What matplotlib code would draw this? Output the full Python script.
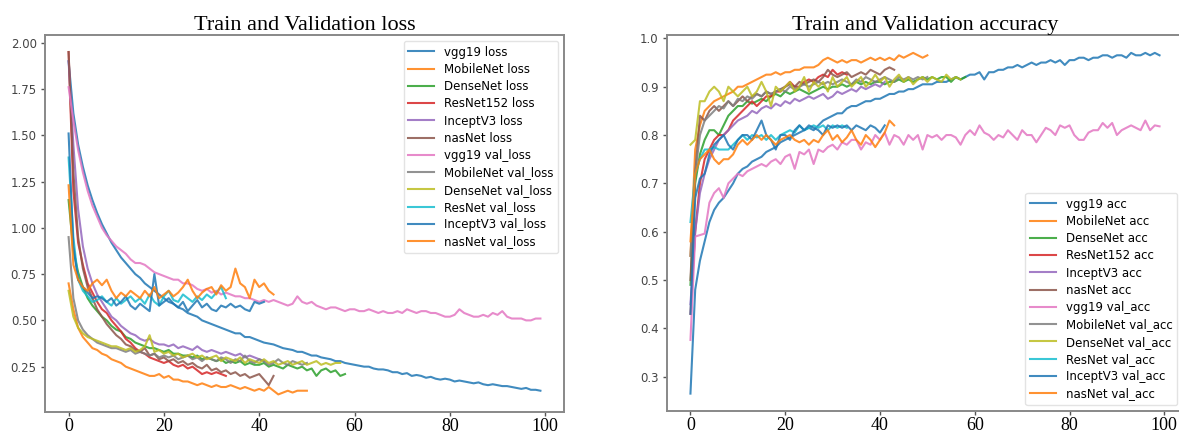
import matplotlib
matplotlib.use("Agg")
import matplotlib.pyplot as plt

loss_labels = ["vgg19 loss", "MobileNet loss", "DenseNet loss", "ResNet152 loss", "InceptV3 loss", "nasNet loss",
               "vgg19 val_loss", "MobileNet val_loss", "DenseNet val_loss", "ResNet val_loss", "InceptV3 val_loss", "nasNet val_loss"]
acc_labels = ["vgg19 acc", "MobileNet acc", "DenseNet acc", "ResNet152 acc", "InceptV3 acc", "nasNet acc",
              "vgg19 val_acc", "MobileNet val_acc", "DenseNet val_acc", "ResNet val_acc", "InceptV3 val_acc", "nasNet val_acc"]

vgg19_loss = [1.90, 1.62, 1.45, 1.33, 1.23, 1.15, 1.08, 1.02, 0.97, 0.92,
              0.88, 0.84, 0.81, 0.78, 0.75, 0.73, 0.70, 0.68, 0.66, 0.64,
              0.62, 0.60, 0.59, 0.57, 0.56, 0.54, 0.53, 0.52, 0.50, 0.49,
              0.48, 0.47, 0.46, 0.45, 0.44, 0.43, 0.43, 0.41, 0.41, 0.40,
              0.39, 0.38, 0.375, 0.37, 0.36, 0.35, 0.345, 0.34, 0.33, 0.33,
              0.32, 0.31, 0.31, 0.30, 0.295, 0.29, 0.28, 0.28, 0.27, 0.265,
              0.26, 0.255, 0.25, 0.25, 0.24, 0.235, 0.235, 0.23, 0.22, 0.22,
              0.21, 0.215, 0.20, 0.205, 0.20, 0.19, 0.195, 0.185, 0.18, 0.185,
              0.18, 0.17, 0.175, 0.17, 0.165, 0.16, 0.165, 0.155, 0.15, 0.155,
              0.15, 0.145, 0.145, 0.14, 0.135, 0.13, 0.135, 0.125, 0.125, 0.12]
mobilenet_loss = [0.70, 0.56, 0.46, 0.41, 0.38, 0.35, 0.34, 0.32, 0.31, 0.29,
                  0.28, 0.27, 0.25, 0.24, 0.23, 0.22, 0.21, 0.20, 0.20, 0.21,
                  0.19, 0.20, 0.18, 0.18, 0.17, 0.17, 0.16, 0.15, 0.16, 0.15,
                  0.14, 0.15, 0.14, 0.14, 0.15, 0.14, 0.13, 0.14, 0.13, 0.12,
                  0.13, 0.12, 0.14, 0.12, 0.10, 0.11, 0.12, 0.11, 0.12, 0.12,
                  0.12]
densenet_loss = [1.15, 0.88, 0.76, 0.68, 0.62, 0.58, 0.55, 0.52, 0.50, 0.47,
                 0.45, 0.44, 0.41, 0.40, 0.38, 0.37, 0.36, 0.35, 0.35, 0.34,
                 0.33, 0.34, 0.32, 0.32, 0.31, 0.31, 0.30, 0.31, 0.29, 0.30,
                 0.29, 0.28, 0.29, 0.27, 0.28, 0.27, 0.28, 0.26, 0.27, 0.26,
                 0.26, 0.27, 0.25, 0.26, 0.25, 0.24, 0.26, 0.25, 0.24, 0.25,
                 0.23, 0.24, 0.20, 0.23, 0.24, 0.22, 0.23, 0.20, 0.21]
resnet_loss = [1.95, 1.20, 0.92, 0.80, 0.70, 0.65, 0.60, 0.56, 0.54, 0.50,
               0.47, 0.44, 0.40, 0.38, 0.35, 0.33, 0.32, 0.30, 0.29, 0.28,
               0.27, 0.28, 0.26, 0.25, 0.26, 0.24, 0.25, 0.23, 0.21, 0.22,
               0.21, 0.22, 0.21, 0.20]
inception_loss = [1.90, 1.45, 1.10, 0.90, 0.78, 0.70, 0.64, 0.60, 0.56, 0.52,
                  0.50, 0.47, 0.45, 0.43, 0.42, 0.40, 0.39, 0.40, 0.38, 0.37,
                  0.37, 0.36, 0.37, 0.35, 0.36, 0.35, 0.34, 0.36, 0.34, 0.33,
                  0.34, 0.33, 0.32, 0.33, 0.32, 0.31, 0.32, 0.30, 0.31, 0.30,
                  0.29, 0.28]
nasnet_loss = [1.95, 1.30, 0.95, 0.78, 0.68, 0.62, 0.56, 0.52, 0.48, 0.45,
               0.42, 0.40, 0.37, 0.36, 0.34, 0.33, 0.35, 0.31, 0.32, 0.29,
               0.30, 0.28, 0.29, 0.27, 0.28, 0.26, 0.27, 0.25, 0.24, 0.26,
               0.23, 0.24, 0.22, 0.23, 0.21, 0.22, 0.20, 0.21, 0.19, 0.20,
               0.21, 0.18, 0.15, 0.20]

vgg19_val_loss = [1.76, 1.58, 1.42, 1.30, 1.20, 1.12, 1.06, 1.00, 0.96, 0.93,
                  0.90, 0.88, 0.86, 0.83, 0.81, 0.81, 0.80, 0.78, 0.76, 0.75,
                  0.74, 0.73, 0.72, 0.72, 0.70, 0.70, 0.69, 0.67, 0.66, 0.67,
                  0.65, 0.66, 0.64, 0.65, 0.64, 0.63, 0.63, 0.62, 0.62, 0.61,
                  0.60, 0.61, 0.60, 0.61, 0.60, 0.59, 0.58, 0.59, 0.63, 0.60,
                  0.59, 0.60, 0.58, 0.57, 0.56, 0.57, 0.57, 0.56, 0.55, 0.56,
                  0.56, 0.55, 0.55, 0.56, 0.55, 0.54, 0.55, 0.54, 0.54, 0.55,
                  0.54, 0.56, 0.55, 0.54, 0.55, 0.55, 0.54, 0.54, 0.53, 0.52,
                  0.52, 0.53, 0.56, 0.54, 0.53, 0.52, 0.52, 0.53, 0.52, 0.54,
                  0.53, 0.55, 0.52, 0.51, 0.51, 0.51, 0.50, 0.50, 0.51, 0.51]
mobilenet_val_loss = [0.95, 0.62, 0.50, 0.45, 0.42, 0.40, 0.38, 0.37, 0.36, 0.35,
                      0.35, 0.34, 0.33, 0.34, 0.32, 0.33, 0.32, 0.31, 0.32, 0.30,
                      0.31, 0.30, 0.31, 0.29, 0.30, 0.31, 0.29, 0.30, 0.28, 0.30,
                      0.29, 0.28, 0.30, 0.29, 0.27, 0.29, 0.28, 0.31, 0.28, 0.27,
                      0.29, 0.28, 0.26, 0.27, 0.29, 0.27, 0.26, 0.28, 0.27, 0.26,
                      0.27]
densenet_val_loss = [0.66, 0.52, 0.46, 0.43, 0.41, 0.40, 0.39, 0.38, 0.37, 0.36,
                     0.36, 0.35, 0.34, 0.35, 0.33, 0.34, 0.36, 0.42, 0.33, 0.34,
                     0.32, 0.33, 0.31, 0.32, 0.30, 0.31, 0.32, 0.30, 0.31, 0.29,
                     0.30, 0.31, 0.28, 0.30, 0.29, 0.28, 0.30, 0.27, 0.29, 0.28,
                     0.27, 0.29, 0.27, 0.28, 0.26, 0.27, 0.28, 0.26, 0.27, 0.28,
                     0.26, 0.27, 0.28, 0.26, 0.27, 0.26, 0.27, 0.27]
resnet_val_loss = [1.38, 0.95, 0.72, 0.66, 0.63, 0.60, 0.61, 0.63, 0.60, 0.58,
                   0.62, 0.59, 0.61, 0.63, 0.60, 0.62, 0.59, 0.64, 0.60, 0.58,
                   0.63, 0.66, 0.61, 0.60, 0.64, 0.62, 0.60, 0.63, 0.61, 0.64,
                   0.62, 0.65, 0.68, 0.62]
inception_val_loss = [1.51, 0.90, 0.72, 0.68, 0.65, 0.62, 0.63, 0.62, 0.60, 0.62,
                      0.58, 0.60, 0.63, 0.58, 0.56, 0.59, 0.57, 0.55, 0.75, 0.58,
                      0.60, 0.62, 0.59, 0.57, 0.60, 0.55, 0.58, 0.61, 0.57, 0.59,
                      0.56, 0.55, 0.58, 0.57, 0.59, 0.57, 0.58, 0.56, 0.55, 0.60,
                      0.59, 0.60]
nasnet_val_loss = [1.23, 0.80, 0.72, 0.68, 0.66, 0.70, 0.72, 0.69, 0.72, 0.66,
                   0.62, 0.65, 0.63, 0.66, 0.64, 0.62, 0.66, 0.63, 0.68, 0.62,
                   0.64, 0.66, 0.63, 0.65, 0.68, 0.72, 0.66, 0.62, 0.65, 0.67,
                   0.68, 0.64, 0.69, 0.66, 0.68, 0.78, 0.70, 0.68, 0.62, 0.72,
                   0.68, 0.70, 0.66, 0.64]

vgg19_acc = [0.265, 0.48, 0.54, 0.58, 0.62, 0.645, 0.66, 0.67, 0.685, 0.70,
             0.72, 0.73, 0.735, 0.745, 0.75, 0.755, 0.765, 0.77, 0.775, 0.785,
             0.79, 0.795, 0.80, 0.805, 0.81, 0.815, 0.81, 0.82, 0.83, 0.835,
             0.84, 0.845, 0.845, 0.855, 0.86, 0.86, 0.865, 0.87, 0.87, 0.875,
             0.875, 0.88, 0.885, 0.885, 0.89, 0.89, 0.895, 0.895, 0.90, 0.905,
             0.905, 0.905, 0.91, 0.91, 0.91, 0.915, 0.92, 0.915, 0.92, 0.925,
             0.925, 0.93, 0.915, 0.93, 0.93, 0.935, 0.935, 0.94, 0.94, 0.945,
             0.94, 0.945, 0.95, 0.945, 0.95, 0.95, 0.955, 0.95, 0.955, 0.945,
             0.955, 0.955, 0.96, 0.96, 0.955, 0.96, 0.96, 0.965, 0.965, 0.96,
             0.965, 0.965, 0.96, 0.97, 0.965, 0.965, 0.97, 0.965, 0.97, 0.965]
mobilenet_acc = [0.55, 0.77, 0.82, 0.85, 0.86, 0.87, 0.875, 0.88, 0.885, 0.89,
                 0.90, 0.90, 0.905, 0.91, 0.915, 0.92, 0.925, 0.925, 0.93, 0.925,
                 0.93, 0.93, 0.935, 0.935, 0.94, 0.94, 0.94, 0.945, 0.955, 0.96,
                 0.955, 0.95, 0.955, 0.95, 0.955, 0.955, 0.95, 0.955, 0.96, 0.955,
                 0.96, 0.955, 0.96, 0.955, 0.965, 0.96, 0.965, 0.97, 0.965, 0.96,
                 0.965]
densenet_acc = [0.49, 0.70, 0.76, 0.79, 0.81, 0.81, 0.80, 0.82, 0.84, 0.85,
                0.86, 0.86, 0.87, 0.865, 0.87, 0.875, 0.87, 0.88, 0.885, 0.88,
                0.89, 0.885, 0.89, 0.895, 0.89, 0.885, 0.89, 0.895, 0.90, 0.895,
                0.90, 0.90, 0.905, 0.90, 0.905, 0.91, 0.905, 0.91, 0.905, 0.91,
                0.91, 0.905, 0.91, 0.91, 0.915, 0.91, 0.915, 0.91, 0.915, 0.92,
                0.915, 0.92, 0.915, 0.92, 0.92, 0.91, 0.92, 0.915, 0.92]
resnet_acc = [0.43, 0.60, 0.70, 0.75, 0.77, 0.79, 0.80, 0.80, 0.81, 0.83,
              0.84, 0.85, 0.86, 0.87, 0.86, 0.87, 0.88, 0.88, 0.89, 0.89,
              0.90, 0.91, 0.90, 0.90, 0.91, 0.915, 0.91, 0.92, 0.925, 0.92,
              0.935, 0.925, 0.93, 0.925]
inception_acc = [0.45, 0.60, 0.68, 0.72, 0.75, 0.77, 0.79, 0.80, 0.81, 0.82,
                 0.83, 0.835, 0.84, 0.85, 0.845, 0.855, 0.86, 0.855, 0.865, 0.86,
                 0.87, 0.865, 0.875, 0.87, 0.875, 0.88, 0.875, 0.88, 0.885, 0.875,
                 0.88, 0.89, 0.885, 0.89, 0.895, 0.89, 0.90, 0.895, 0.90, 0.905,
                 0.90, 0.91]
nasnet_acc = [0.50, 0.72, 0.84, 0.83, 0.85, 0.86, 0.85, 0.86, 0.87, 0.86,
              0.87, 0.88, 0.87, 0.88, 0.885, 0.88, 0.89, 0.885, 0.89, 0.895,
              0.90, 0.905, 0.90, 0.91, 0.905, 0.91, 0.915, 0.91, 0.92, 0.935,
              0.925, 0.92, 0.925, 0.93, 0.92, 0.925, 0.93, 0.925, 0.935, 0.93,
              0.925, 0.935, 0.94, 0.935]

vgg19_val_acc = [0.376, 0.59, 0.593, 0.596, 0.66, 0.68, 0.69, 0.67, 0.70, 0.71,
                 0.72, 0.715, 0.725, 0.73, 0.735, 0.74, 0.735, 0.745, 0.75, 0.74,
                 0.755, 0.76, 0.73, 0.765, 0.76, 0.77, 0.74, 0.77, 0.765, 0.775,
                 0.78, 0.77, 0.785, 0.78, 0.79, 0.79, 0.77, 0.785, 0.78, 0.80,
                 0.79, 0.805, 0.78, 0.80, 0.795, 0.78, 0.80, 0.79, 0.80, 0.77,
                 0.80, 0.795, 0.80, 0.79, 0.80, 0.80, 0.795, 0.78, 0.80, 0.81,
                 0.80, 0.82, 0.805, 0.80, 0.79, 0.80, 0.795, 0.81, 0.80, 0.79,
                 0.81, 0.80, 0.80, 0.785, 0.80, 0.815, 0.81, 0.80, 0.82, 0.815,
                 0.82, 0.80, 0.79, 0.79, 0.805, 0.81, 0.81, 0.825, 0.815, 0.825,
                 0.80, 0.81, 0.815, 0.82, 0.815, 0.81, 0.83, 0.81, 0.82, 0.818]
mobilenet_val_acc = [0.55, 0.72, 0.80, 0.83, 0.84, 0.85, 0.86, 0.855, 0.87, 0.86,
                     0.875, 0.87, 0.88, 0.875, 0.885, 0.88, 0.89, 0.885, 0.89, 0.895,
                     0.89, 0.90, 0.895, 0.90, 0.905, 0.90, 0.905, 0.91, 0.905, 0.91,
                     0.905, 0.91, 0.915, 0.91, 0.905, 0.915, 0.91, 0.92, 0.915, 0.91,
                     0.915, 0.92, 0.915, 0.91, 0.92, 0.915, 0.92, 0.915, 0.92, 0.915,
                     0.92]
densenet_val_acc = [0.78, 0.79, 0.87, 0.87, 0.89, 0.90, 0.89, 0.87, 0.90, 0.89,
                    0.88, 0.89, 0.90, 0.88, 0.89, 0.91, 0.89, 0.86, 0.90, 0.89,
                    0.90, 0.91, 0.89, 0.90, 0.92, 0.89, 0.91, 0.90, 0.91, 0.89,
                    0.92, 0.90, 0.91, 0.92, 0.90, 0.91, 0.92, 0.90, 0.91, 0.925,
                    0.91, 0.92, 0.90, 0.915, 0.925, 0.91, 0.92, 0.905, 0.915, 0.92,
                    0.91, 0.92, 0.915, 0.91, 0.925, 0.915, 0.92, 0.915]
resnet_val_acc = [0.62, 0.72, 0.75, 0.77, 0.77, 0.775, 0.77, 0.77, 0.77, 0.78,
                  0.79, 0.80, 0.79, 0.80, 0.795, 0.80, 0.79, 0.80, 0.79, 0.80,
                  0.805, 0.81, 0.805, 0.82, 0.81, 0.815, 0.82, 0.815, 0.82, 0.81,
                  0.82, 0.815, 0.82, 0.815]
inception_val_acc = [0.43, 0.67, 0.71, 0.72, 0.76, 0.78, 0.79, 0.80, 0.78, 0.77,
                     0.79, 0.80, 0.80, 0.79, 0.81, 0.83, 0.80, 0.79, 0.77, 0.80,
                     0.80, 0.79, 0.81, 0.82, 0.81, 0.82, 0.815, 0.81, 0.80, 0.82,
                     0.815, 0.82, 0.815, 0.82, 0.81, 0.82, 0.815, 0.81, 0.82, 0.815,
                     0.805, 0.82]
nasnet_val_acc = [0.58, 0.72, 0.75, 0.76, 0.77, 0.75, 0.74, 0.75, 0.75, 0.76,
                  0.78, 0.79, 0.78, 0.79, 0.80, 0.79, 0.80, 0.79, 0.78, 0.79,
                  0.795, 0.80, 0.79, 0.785, 0.79, 0.78, 0.79, 0.785, 0.80, 0.81,
                  0.79, 0.80, 0.785, 0.795, 0.81, 0.79, 0.78, 0.80, 0.79, 0.775,
                  0.79, 0.805, 0.83, 0.82]

loss_series = [vgg19_loss, mobilenet_loss, densenet_loss, resnet_loss, inception_loss, nasnet_loss,
               vgg19_val_loss, mobilenet_val_loss, densenet_val_loss, resnet_val_loss, inception_val_loss, nasnet_val_loss]
acc_series = [vgg19_acc, mobilenet_acc, densenet_acc, resnet_acc, inception_acc, nasnet_acc,
              vgg19_val_acc, mobilenet_val_acc, densenet_val_acc, resnet_val_acc, inception_val_acc, nasnet_val_acc]

W, H = 1179, 433
fig = plt.figure(figsize=(W / 100, H / 100), dpi=100)
ax1 = fig.add_axes([45 / W, (H - 412) / H, 519 / W, 377 / H])
ax2 = fig.add_axes([667 / W, (H - 411) / H, 516 / W, 376 / H])


def style(ax, title):
    for s in ax.spines.values():
        s.set_color("#888888")
        s.set_linewidth(1.4)
    ax.tick_params(axis="both", colors="#555555", length=3, width=1)
    ax.tick_params(axis="x", labelcolor="black", pad=1)
    ax.tick_params(axis="y", labelcolor="#444444", pad=3)
    for lab in ax.get_xticklabels():
        lab.set_fontfamily("Liberation Serif")
        lab.set_fontsize(13)
    for lab in ax.get_yticklabels():
        lab.set_fontfamily("DejaVu Sans")
        lab.set_fontsize(8.5)
    ax.set_title(title, fontfamily="Liberation Serif", fontsize=16, pad=3)


for i, (lab, ys) in enumerate(zip(loss_labels, loss_series)):
    ax1.plot(range(len(ys)), ys, color=f"C{i % 10}", lw=1.5, alpha=0.85, label=lab)
for i, (lab, ys) in enumerate(zip(acc_labels, acc_series)):
    ax2.plot(range(len(ys)), ys, color=f"C{i % 10}", lw=1.5, alpha=0.85, label=lab)

ax1.set_xlim(-4.95, 103.95)
ax1.set_ylim(0.005, 2.042)
ax1.set_xticks([0, 20, 40, 60, 80, 100])
ax1.set_yticks([0.25, 0.5, 0.75, 1.0, 1.25, 1.5, 1.75, 2.0])
ax1.set_yticklabels(["0.25", "0.50", "0.75", "1.00", "1.25", "1.50", "1.75", "2.00"])
ax2.set_xlim(-4.95, 103.95)
ax2.set_ylim(0.229, 1.007)
ax2.set_xticks([0, 20, 40, 60, 80, 100])
ax2.set_yticks([0.3, 0.4, 0.5, 0.6, 0.7, 0.8, 0.9, 1.0])
ax2.set_yticklabels(["0.3", "0.4", "0.5", "0.6", "0.7", "0.8", "0.9", "1.0"])

style(ax1, "Train and Validation loss")
style(ax2, "Train and Validation accuracy")

ax1.legend(loc="upper right", fontsize=8.5, frameon=True, edgecolor="#dddddd", handlelength=2.2,
           labelspacing=0.36, borderaxespad=0.5)
ax2.legend(loc="lower right", fontsize=8.5, frameon=True, edgecolor="#dddddd", handlelength=2.2,
           labelspacing=0.36, borderaxespad=0.5)

fig.savefig("out.png", dpi=100)
